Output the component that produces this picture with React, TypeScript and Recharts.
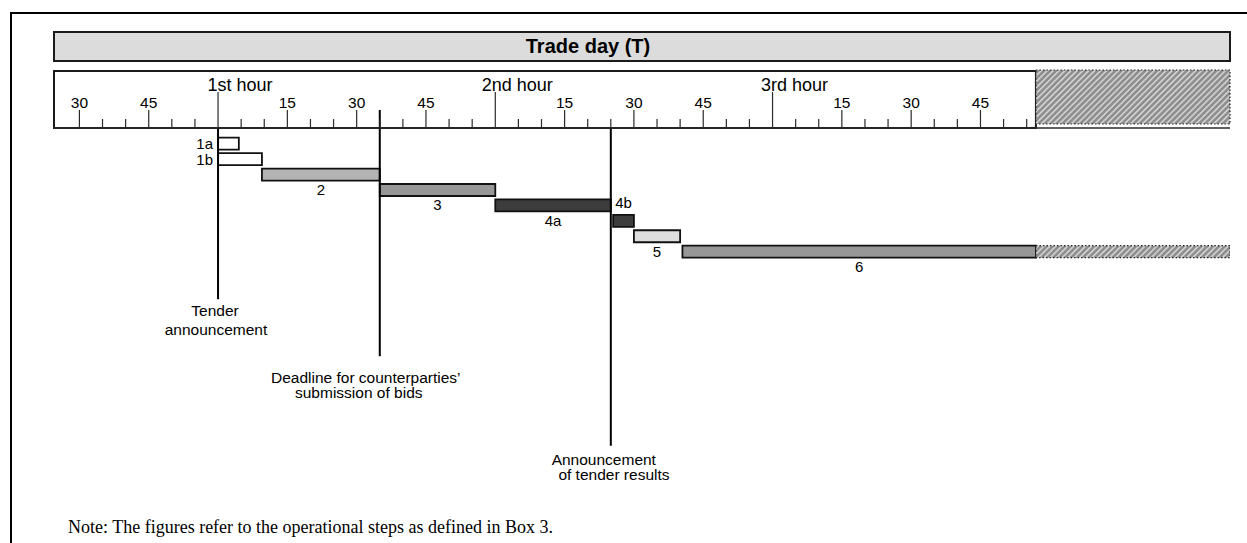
import React from "react";
import {
  ComposedChart,
  Bar,
  Cell,
  XAxis,
  YAxis,
  LabelList,
  ReferenceArea,
  ReferenceLine,
} from "recharts";

// all times are minutes from the start of the 1st hour of the trade day
const steps = ["1a", "1b", "2", "3", "4a", "4b", "5", "6"];
const stepStart = [0, 0, 9.5, 35, 60, 85.5, 90, 100.5];
const stepEnd = [4.5, 9.5, 35, 60, 85, 90, 100, 177];
// step 6 carries on past the end of the ruler (hatched part)
const openPart = [177, 219];

const rulerTicks = [
  -30, -25, -20, -15, -10, -5, 0, 5, 10, 15, 20, 25, 30, 35, 40, 45, 50, 55,
  60, 65, 70, 75, 80, 85, 90, 95, 100, 105, 110, 115, 120, 125, 130, 135, 140,
  145, 150, 155, 160, 165, 170, 175,
];
const hourNames = ["1st hour", "2nd hour", "3rd hour"];

const milestoneAt = [0, 35, 85];
const milestoneText = [
  ["Tender", "announcement"],
  ["Deadline for counterparties\u2019", "submission of bids"],
  ["Announcement", " of tender results"],
];

const title = "Trade day (T)";
const note = "Note: The figures refer to the operational steps as defined in Box 3.";

// ---- look ----
const SANS = "'Liberation Sans', Arial, sans-serif";
const X_DOMAIN = [-35.5, 219];
const Y_DOMAIN = [0, 26]; // y in row units, 0 = ruler baseline, growing downwards
const stepFill: Record<string, string> = {
  "1a": "#ffffff",
  "1b": "#ffffff",
  "2": "#b3b3b3",
  "3": "#979797",
  "4a": "#3d3d3d",
  "4b": "#3d3d3d",
  "5": "#dedede",
  "6": "#979797",
};
const labelPlace: Record<string, string> = { "1a": "left", "1b": "left", "4b": "top" };
// where each milestone line starts / ends (row units) and how its text sits
const milestoneTop = [0, -1.17, 0];
const milestoneDepth = [11.1, 14.8, 20.6];
const milestoneTextStyle = [
  { gap: 17, lh: 19, dx: [-3, -2] },
  { gap: 27, lh: 15, dx: [-14, -21] },
  { gap: 19, lh: 15, dx: [-7, 1] },
];
const BAND = { top: -6.23, bottom: -4.35 };
const RULER_TOP = -3.7;
const HATCH = { top: -3.76, bottom: -0.26 };

const barData = [
  ...steps.map((step, i) => ({ step, row: i + 1, span: [stepStart[i], stepEnd[i]], open: false })),
  { step: "", row: steps.length, span: openPart, open: true },
];

const RulerTick = (props: any) => {
  const { x, y, payload } = props;
  const v = payload.value;
  const hour = v % 60 === 0;
  const major = v % 15 === 0;
  const len = hour ? 36 : major ? 18 : 9;
  return (
    <g>
      <line x1={x} x2={x} y1={y - len} y2={y} stroke="#2a2a2a" strokeWidth={1.2} />
      {hour && (
        <text x={x + 22} y={y - 37.5} textAnchor="middle" fontFamily={SANS} fontSize={18} fill="#000">
          {hourNames[v / 60]}
        </text>
      )}
      {!hour && major && (
        <text x={x} y={y - 20.5} textAnchor="middle" fontFamily={SANS} fontSize={15.5} fill="#000">
          {((v % 60) + 60) % 60}
        </text>
      )}
    </g>
  );
};

const StepLabel = (p: any) => {
  const vb = p.viewBox ?? p;
  const { x, y, width, height } = vb;
  const v = p.value;
  if (!v) return null;
  const place = labelPlace[v] ?? "bottom";
  const common = { fontFamily: SANS, fontSize: 15, fill: "#000" };
  if (place === "left")
    return (
      <text x={x - 5} y={y + height / 2 + 5.5} textAnchor="end" {...common}>
        {v}
      </text>
    );
  if (place === "top")
    return (
      <text x={x + width / 2} y={y - 6.5} textAnchor="middle" {...common}>
        {v}
      </text>
    );
  return (
    <text x={x + width / 2} y={y + height + 14.5} textAnchor="middle" {...common}>
      {v}
    </text>
  );
};

const milestoneLabel = (i: number) => (p: any) => {
  const vb = p.viewBox;
  if (!vb) return null;
  const s = milestoneTextStyle[i];
  const bottom = vb.y + vb.height;
  return (
    <text fontFamily={SANS} fontSize={15.5} fill="#000">
      {milestoneText[i].map((line, k) => (
        <tspan key={k} x={vb.x + s.dx[k]} y={bottom + s.gap + k * s.lh} textAnchor="middle" xmlSpace="preserve">
          {line}
        </tspan>
      ))}
    </text>
  );
};

const TitleLabel = (p: any) => {
  const vb = p.viewBox;
  if (!vb) return null;
  return (
    <text
      x={vb.x + vb.width / 2 - 54}
      y={vb.y + vb.height / 2 + 7}
      textAnchor="middle"
      fontFamily={SANS}
      fontWeight="bold"
      fontSize={20}
      fill="#000"
    >
      {title}
    </text>
  );
};

export default function App() {
  return (
    <div style={{ position: "absolute", left: 0, top: 0, width: 1247, height: 543, background: "#fff" }}>
      {/* frame */}
      <div style={{ position: "absolute", left: 10, top: 12, right: 0, height: 0, borderTop: "2px solid #000" }} />
      <div style={{ position: "absolute", left: 10, top: 12, bottom: 0, width: 0, borderLeft: "2px solid #000" }} />

      <ComposedChart
        width={1247}
        height={543}
        data={barData}
        layout="vertical"
        margin={{ top: 71, right: 17, left: 54, bottom: 14 }}
        style={{ position: "absolute", left: 0, top: 0 }}
      >
        <defs>
          <pattern id="hatch" patternUnits="userSpaceOnUse" width={4.2} height={4.2} patternTransform="rotate(45)">
            <rect width={4.2} height={4.2} fill="#8e8e8e" />
            <rect width={1.6} height={4.2} fill="#d2d2d2" />
          </pattern>
        </defs>
        <XAxis
          type="number"
          orientation="top"
          domain={X_DOMAIN}
          ticks={rulerTicks}
          interval={0}
          allowDataOverflow
          height={57}
          tickSize={0}
          tickMargin={0}
          tickLine={false}
          axisLine={{ stroke: "#2a2a2a", strokeWidth: 1.5 }}
          tick={(p: any) => <RulerTick {...p} />}
        />
        <YAxis type="number" dataKey="row" domain={Y_DOMAIN} hide allowDataOverflow ticks={[1, 2, 3, 4, 5, 6, 7, 8]} />

        <ReferenceArea
          x1={X_DOMAIN[0]}
          x2={X_DOMAIN[1]}
          y1={BAND.top}
          y2={BAND.bottom}
          ifOverflow="visible"
          fill="#dcdcdc"
          fillOpacity={1}
          stroke="#1a1a1a"
          strokeWidth={2}
          label={(p: any) => <TitleLabel {...p} />}
        />
        <ReferenceArea
          x1={X_DOMAIN[0]}
          x2={openPart[0]}
          y1={RULER_TOP}
          y2={0}
          ifOverflow="visible"
          fill="none"
          stroke="#1a1a1a"
          strokeWidth={2}
        />
        <ReferenceArea
          x1={openPart[0]}
          x2={openPart[1]}
          y1={HATCH.top}
          y2={HATCH.bottom}
          ifOverflow="visible"
          fill="url(#hatch)"
          fillOpacity={1}
          stroke="#222"
          strokeWidth={1.2}
          strokeDasharray="1.5 2"
        />

        <Bar dataKey="span" barSize={12} isAnimationActive={false} stroke="#111" strokeWidth={1.8}>
          {barData.map((d, i) => (
            <Cell
              key={i}
              fill={d.open ? "url(#hatch)" : stepFill[d.step]}
              stroke={d.open ? "#222" : "#111"}
              strokeWidth={d.open ? 1.2 : 1.8}
              strokeDasharray={d.open ? "1.5 2" : undefined}
            />
          ))}
          <LabelList dataKey="step" content={(p: any) => <StepLabel {...p} />} />
        </Bar>

        {milestoneAt.map((t, i) => (
          <ReferenceLine
            key={i}
            segment={[
              { x: t, y: milestoneTop[i] },
              { x: t, y: milestoneDepth[i] },
            ]}
            ifOverflow="visible"
            stroke="#000"
            strokeWidth={2}
            label={milestoneLabel(i)}
          />
        ))}
      </ComposedChart>

      <div
        style={{
          position: "absolute",
          left: 68,
          top: 518,
          fontFamily: "'Liberation Serif', 'Times New Roman', serif",
          fontSize: 18,
          lineHeight: "18px",
          whiteSpace: "nowrap",
          color: "#000",
        }}
      >
        {note}
      </div>
    </div>
  );
}
